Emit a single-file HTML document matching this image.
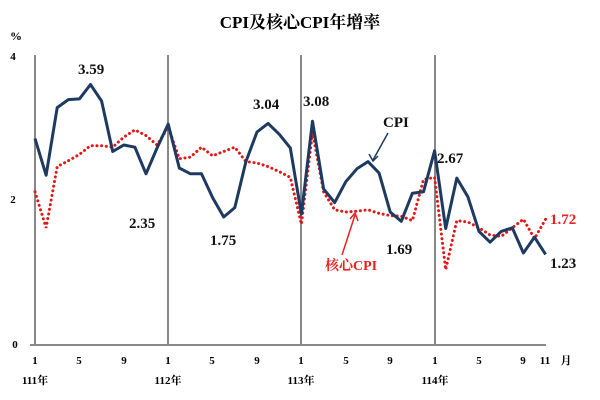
<!DOCTYPE html>
<html><head><meta charset="utf-8"><style>body{margin:0;background:#fff}svg{display:block}</style></head><body>
<svg width="600" height="400" xmlns="http://www.w3.org/2000/svg" font-family="Liberation Serif, Noto Serif CJK SC, serif" font-weight="bold">
<text x="300" y="28" text-anchor="middle" font-size="17" fill="#000">CPI及核心CPI年增率</text>
<text x="10" y="40" font-size="12">%</text>
<g font-size="11" text-anchor="middle">
<text x="13" y="60">4</text><text x="13" y="203">2</text><text x="15" y="348">0</text>
</g>
<g stroke="#888" stroke-width="2">
<line x1="35" y1="55" x2="35" y2="345"/><line x1="168" y1="55" x2="168" y2="345"/>
<line x1="301" y1="55" x2="301" y2="345"/><line x1="435" y1="55" x2="435" y2="345"/>
<line x1="30" y1="345" x2="546" y2="345"/>
</g>
<g id="ticks" stroke="#888" stroke-width="1"></g>
<polyline id="core" fill="none" stroke="#e01818" stroke-width="3" stroke-dasharray="0.1 4.6" stroke-linecap="round"/>
<polyline id="cpi" fill="none" stroke="#1f3a60" stroke-width="3" stroke-linejoin="round"/>
<g font-size="15" fill="#111">
<text x="78" y="74">3.59</text><text x="129" y="228">2.35</text><text x="210" y="245">1.75</text>
<text x="253" y="109">3.04</text><text x="303" y="106">3.08</text><text x="383" y="127">CPI</text>
<text x="437" y="163">2.67</text><text x="386" y="254">1.69</text><text x="550" y="268">1.23</text>
<text x="550" y="224" fill="#e82020">1.72</text>
<text x="325" y="270" fill="#e82020" font-size="14">核心CPI</text>
</g>
<line x1="388" y1="133" x2="373" y2="160" stroke="#1f3a60" stroke-width="1.5"/>
<path d="M369 154 L373 161 L378 156" fill="none" stroke="#1f3a60" stroke-width="1.5"/>
<line x1="342" y1="255" x2="355" y2="215" stroke="#e82020" stroke-width="1.5"/>
<path d="M350 219 L355 213 L358 221" fill="none" stroke="#e82020" stroke-width="1.5"/>
<g font-size="11" text-anchor="middle">
<text x="35" y="364">1</text><text x="79" y="364">5</text><text x="124" y="364">9</text>
<text x="168" y="364">1</text><text x="212" y="364">5</text><text x="257" y="364">9</text>
<text x="301" y="364">1</text><text x="346" y="364">5</text><text x="390" y="364">9</text>
<text x="435" y="364">1</text><text x="479" y="364">5</text><text x="523" y="364">9</text><text x="545" y="364">11</text>
<text x="566" y="364">月</text>
<text x="35" y="384">111年</text><text x="168" y="384">112年</text><text x="301" y="384">113年</text><text x="435" y="384">114年</text>
</g>
<script>
var cpi=[2.84,2.33,3.27,3.38,3.39,3.59,3.36,2.66,2.75,2.72,2.35,2.71,3.04,2.43,2.35,2.35,2.02,1.75,1.88,2.52,2.93,3.05,2.90,2.71,1.79,3.08,2.14,1.95,2.24,2.42,2.52,2.36,1.82,1.69,2.08,2.10,2.67,1.59,2.29,2.03,1.55,1.40,1.55,1.60,1.25,1.47,1.23];
var core=[2.1,1.6,2.45,2.53,2.62,2.74,2.74,2.72,2.86,2.96,2.88,2.75,3.0,2.56,2.58,2.72,2.6,2.66,2.72,2.52,2.5,2.45,2.38,2.3,1.65,2.92,2.1,1.85,1.82,1.83,1.85,1.8,1.77,1.76,1.7,2.27,2.3,1.02,1.7,1.68,1.6,1.5,1.48,1.6,1.72,1.45,1.85,1.78];
core=core.slice(0,47);core[46]=1.72;
function pts(a){return a.map(function(v,i){return (35+i*11.1).toFixed(1)+","+(343-v*72).toFixed(1)}).join(" ")}
document.getElementById("cpi").setAttribute("points",pts(cpi));
document.getElementById("core").setAttribute("points",pts(core));
var t="";for(var i=0;i<47;i++){var x=35+i*11.1;t+='<line x1="'+x+'" y1="339" x2="'+x+'" y2="345"/>';}
document.getElementById("ticks").innerHTML=t;
</script>
</svg>
</body></html>
